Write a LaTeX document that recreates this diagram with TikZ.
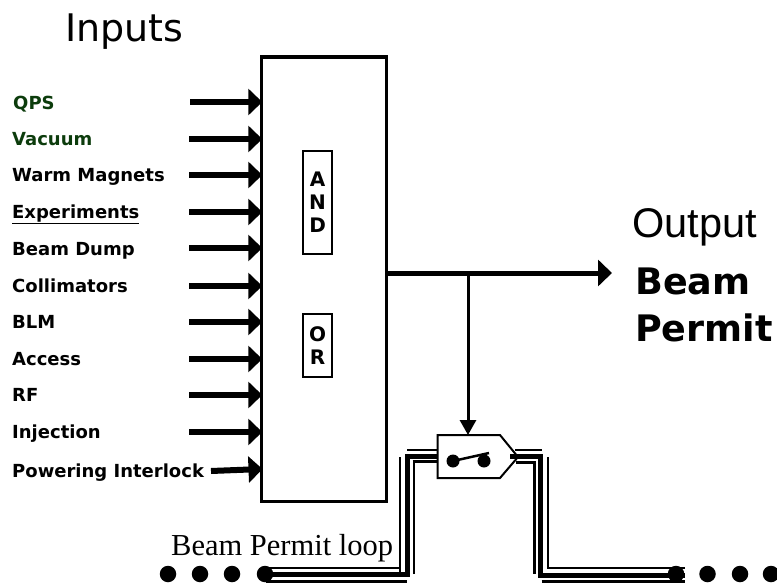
\documentclass[tikz,border=0pt]{standalone}
\usepackage{fontspec}
\setmainfont{DejaVu Sans}
\newfontfamily\serifname{Liberation Serif}
\newfontfamily\armo{Liberation Sans}
\usetikzlibrary{arrows.meta}
\definecolor{dkgreen}{RGB}{12,60,12}
\tikzset{
 lab/.style={anchor=west,inner sep=0pt,text height=13pt,text depth=0pt,font=\fontsize{18}{20}\selectfont\bfseries},
 inarrow/.style={line width=6pt,-{Triangle[length=14pt,width=26pt]}},
 gate/.style={draw,line width=2.2pt,fill=white,align=center,inner sep=0pt,font=\fontsize{20}{23}\selectfont\bfseries},
 thinw/.style={line width=2.2pt},
 thickw/.style={line width=5pt,line join=miter},
 dot/.style={circle,fill=black,inner sep=0pt,minimum size=16.5pt}
}
\begin{document}
\begin{tikzpicture}[x=1pt,y=-1pt]
\useasboundingbox (0,0) rectangle (777,586);
\clip (0,0) rectangle (777,586);
\node[draw,line width=3.5pt,minimum width=125pt,minimum height=444.5pt,inner sep=0pt,anchor=north west] (main) at (259.75,55.25) {};
\node[gate,minimum width=29pt,minimum height=103pt,anchor=north west] (and) at (302,150) {A\\N\\D};
\node[gate,minimum width=29pt,minimum height=63pt,anchor=north west] (or) at (302,313) {O\\R};
\node[anchor=west,inner sep=0pt,font=\fontsize{38}{40}\selectfont] (inputs) at (65,32) {Inputs};
\node[anchor=west,inner sep=0pt,font=\armo\fontsize{41.5}{44}\selectfont] (output) at (632,227) {Output};
\node[anchor=west,inner sep=0pt,font=\fontsize{36.5}{40}\selectfont\bfseries] (beam) at (635,281) {Beam};
\node[anchor=west,inner sep=0pt,font=\fontsize{36.5}{40}\selectfont\bfseries] (permit) at (635,328) {Permit};
\node[anchor=west,inner sep=0pt,font=\serifname\fontsize{30.5}{33}\selectfont] (loop) at (171,548) {Beam Permit loop};
\node[lab,text=dkgreen] (l1) at (13,103) {QPS};
\node[lab,text=dkgreen] (l2) at (12,139) {Vacuum};
\node[lab] (l3) at (12,175) {Warm Magnets};
\node[lab] (l4) at (12,212) {\underline{Experiments}};
\node[lab] (l5) at (12,249) {Beam Dump};
\node[lab] (l6) at (12,286) {Collimators};
\node[lab] (l7) at (12,322) {BLM};
\node[lab] (l8) at (12,359) {Access};
\node[lab] (l9) at (12,395) {RF};
\node[lab] (l10) at (12,432) {Injection};
\node[lab] (l11) at (12,471) {Powering Interlock};
\coordinate (mw) at ([xshift=2.5pt]main.west);
\foreach \y/\s/\n in {102/190/a1,139/189/a2,175/189/a3,212/189/a4,248/189/a5,286/189/a6,322/189/a7,359/189/a8,395/189/a9,432/189/a10}
  \draw[inarrow] (\s,\y) coordinate (\n) -- (mw |- \n);
\coordinate (a11) at (211,471);
\coordinate (a11e) at (262.5,469);
\draw[inarrow] (a11) -- (a11e);
% output
\coordinate (outend) at (612,273);
\coordinate (tap) at (468,273);
\draw[line width=5pt,-{Triangle[length=14pt,width=26pt]}] (main.east |- outend) -- (outend);
% switch
\filldraw[fill=white,draw=black,line width=2pt] (437.5,435) -- (500,435) -- (518,457) -- (500,478) -- (437.5,478) -- cycle;
\coordinate (swtop) at (468,435);
\draw[line width=3pt,-{Triangle[length=15pt,width=16pt]}] (tap) -- (swtop);
\node[dot,minimum size=13pt] (c1) at (453,461) {};
\node[dot,minimum size=13pt] (c2) at (484,461) {};
\draw[line width=2.5pt] (c1.center) -- (489,453) coordinate (blade);
% wires
\coordinate (sl) at (437,456); \coordinate (sr) at (510,456.5);
\draw[thickw] (265,574) -- (407,574) -- (407,456) -- (sl);
\draw[thickw] (sr) -- (540.5,456.5) -- (540.5,575) -- (685,575);
\draw[thinw] (266,568) -- (400,568);
\draw[thinw] (400,573) -- (400,457);
\draw[thinw,line width=2.6pt] (266,581.7) -- (406.5,581.7);
\draw[thinw] (413.7,574) -- (413.7,460.5);
\draw[thinw,line width=3pt] (412.5,461.5) -- (437,461.5);
\draw[thinw,line width=2.6pt] (407,450) -- (437,450);
\draw[thinw,line width=2.6pt] (515,450) -- (541.5,450);
\draw[thinw,line width=3pt] (516,462) -- (535.5,462);
\draw[thinw] (534.5,461) -- (534.5,574);
\draw[thinw] (547.8,457) -- (547.8,569);
\draw[thinw] (547,568) -- (685,568);
\draw[thinw,line width=2.6pt] (541.5,581.7) -- (685,581.7);
% dots
\foreach \n/\x in {d1/168,d2/200,d3/232,d4/265,e1/676,e2/707.5,e3/740,e4/771}
  \node[dot] (\n) at (\x,574) {};
\end{tikzpicture}
\end{document}
